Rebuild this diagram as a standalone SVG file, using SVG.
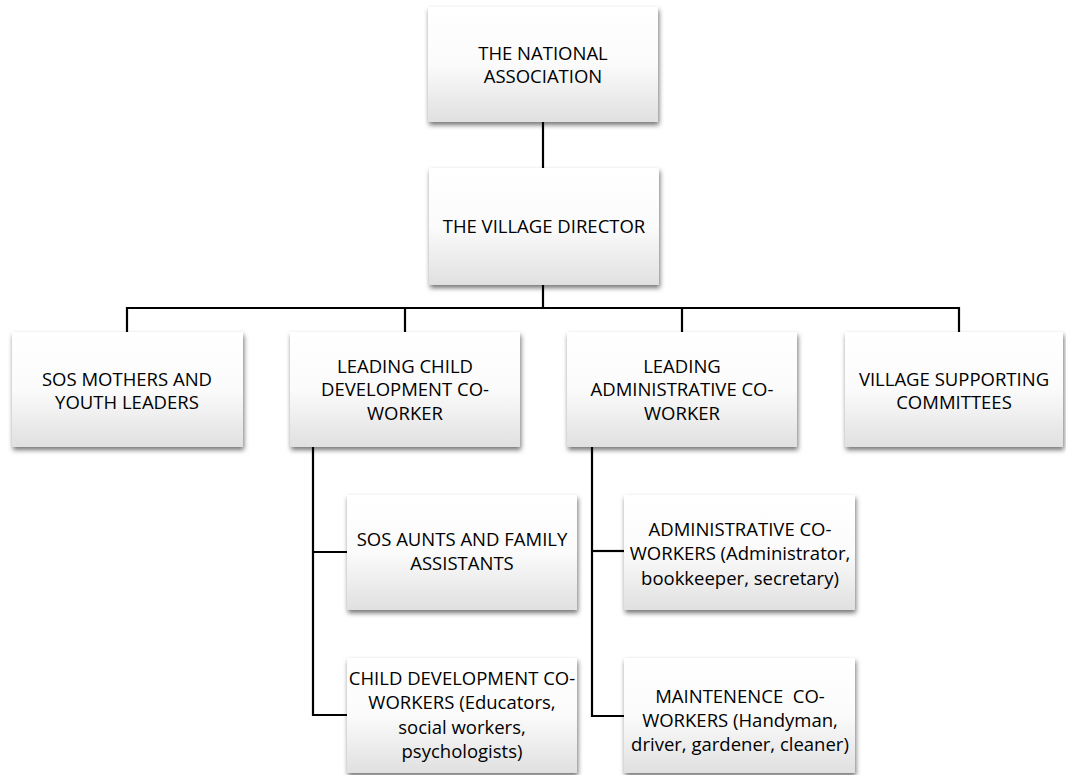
<svg xmlns="http://www.w3.org/2000/svg" width="1066" height="775" viewBox="0 0 1066 775">
<defs>
<linearGradient id="g" x1="0" y1="0" x2="0" y2="1">
<stop offset="0" stop-color="#ffffff"/>
<stop offset="0.5" stop-color="#fbfbfb"/>
<stop offset="1" stop-color="#e0e0e0"/>
</linearGradient>
<filter id="sh" x="-10%" y="-10%" width="120%" height="130%">
<feDropShadow dx="1" dy="3" stdDeviation="2.5" flood-color="#000" flood-opacity="0.55"/>
</filter>
</defs>
<style>
.box{fill:url(#g);filter:url(#sh);}
.t{font-family:"Open Sans","Liberation Sans",sans-serif;font-size:18.5px;fill:#000;text-anchor:middle;}
.c{fill:none;stroke:#000;stroke-width:2.2;}
</style>
<rect width="1066" height="775" fill="#fff"/>
<g id="connectors">
<path class="c" d="M543,122 V168"/>
<path class="c" d="M543,285 V308"/>
<path class="c" d="M127,332 V308 H959 V332"/>
<path class="c" d="M405,308 V332"/>
<path class="c" d="M682,308 V332"/>
<path class="c" d="M313,447 V715 H347"/>
<path class="c" d="M313,552 H347"/>
<path class="c" d="M592,447 V716 H624"/>
<path class="c" d="M592,551 H624"/>
</g>
<g id="national">
<rect class="box" x="428" y="7" width="230" height="115"/>
<text class="t" x="543" y="60">THE NATIONAL</text>
<text class="t" x="543" y="83">ASSOCIATION</text>
</g>
<g id="director">
<rect class="box" x="429" y="168" width="230" height="117"/>
<text class="t" x="544" y="233">THE VILLAGE DIRECTOR</text>
</g>
<g id="mothers">
<rect class="box" x="12" y="332" width="231" height="115"/>
<text class="t" x="127" y="386">SOS MOTHERS AND</text>
<text class="t" x="127" y="409">YOUTH LEADERS</text>
</g>
<g id="leadchild">
<rect class="box" x="290" y="332" width="230" height="115"/>
<text class="t" x="405" y="373">LEADING CHILD</text>
<text class="t" x="405" y="396">DEVELOPMENT CO-</text>
<text class="t" x="405" y="420">WORKER</text>
</g>
<g id="leadadmin">
<rect class="box" x="567" y="332" width="230" height="115"/>
<text class="t" x="682" y="373">LEADING</text>
<text class="t" x="682" y="396">ADMINISTRATIVE CO-</text>
<text class="t" x="682" y="420">WORKER</text>
</g>
<g id="committees">
<rect class="box" x="845" y="332" width="218" height="115"/>
<text class="t" x="954" y="386">VILLAGE SUPPORTING</text>
<text class="t" x="954" y="409">COMMITTEES</text>
</g>
<g id="aunts">
<rect class="box" x="347" y="495" width="230" height="115"/>
<text class="t" x="462" y="546">SOS AUNTS AND FAMILY</text>
<text class="t" x="462" y="570">ASSISTANTS</text>
</g>
<g id="childdev">
<rect class="box" x="347" y="658" width="230" height="115"/>
<text class="t" x="462" y="685">CHILD DEVELOPMENT CO-</text>
<text class="t" x="462" y="709">WORKERS (Educators,</text>
<text class="t" x="462" y="734">social workers,</text>
<text class="t" x="462" y="758">psychologists)</text>
</g>
<g id="admin">
<rect class="box" x="624" y="495" width="231" height="115"/>
<text class="t" x="740" y="536">ADMINISTRATIVE CO-</text>
<text class="t" x="740" y="560">WORKERS (Administrator,</text>
<text class="t" x="740" y="585">bookkeeper, secretary)</text>
</g>
<g id="maintenance">
<rect class="box" x="624" y="658" width="231" height="115"/>
<text class="t" x="740" y="703">MAINTENENCE&#160; CO-</text>
<text class="t" x="740" y="727">WORKERS (Handyman,</text>
<text class="t" x="740" y="751">driver, gardener, cleaner)</text>
</g>
</svg>
